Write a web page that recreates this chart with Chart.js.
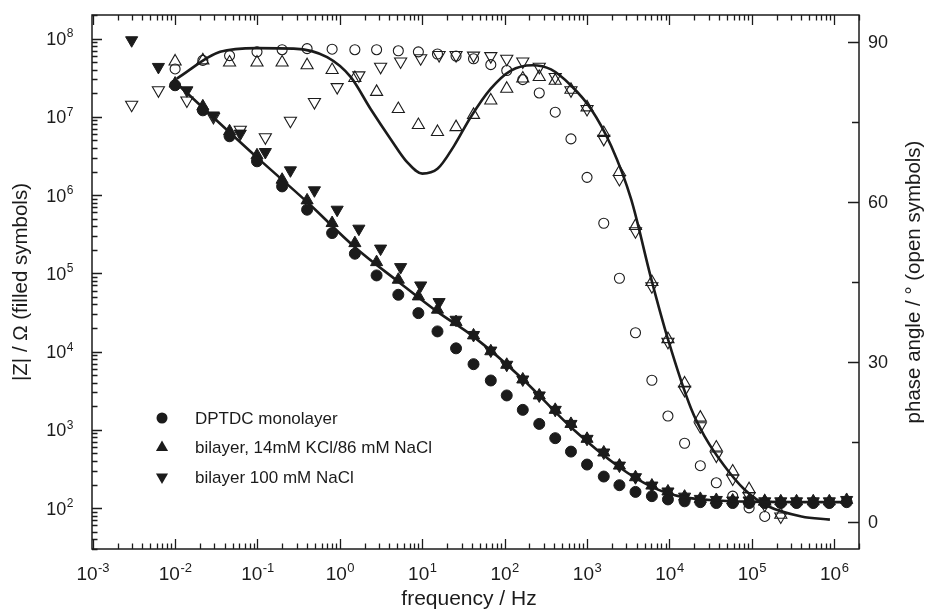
<!DOCTYPE html>
<html>
<head>
<meta charset="utf-8">
<title>Impedance and phase spectra</title>
<script src="https://cdn.jsdelivr.net/npm/chart.js@4.4.1/dist/chart.umd.min.js"></script>
<style>
  html, body { margin: 0; padding: 0; background: #fff; }
  #wrap { width: 926px; height: 610px; }
</style>
</head>
<body>
<div id="wrap"><canvas id="bode" width="926" height="610"></canvas></div>
<script>
// frequencies (Hz) of the monolayer and the KCl bilayer runs
const freqA = [0.01, 0.0217, 0.0458, 0.0986, 0.199, 0.400, 0.805, 1.52, 2.79, 5.12, 8.97, 15.3, 25.7, 41.9, 67.9,
  106, 166, 263, 411, 638, 1000, 1596, 2472, 3873, 6124, 9594, 15280, 23710, 37070, 58610, 92680, 143500, 224700,
  349100, 557000, 873000, 1416000];
// frequencies (Hz) of the 100 mM NaCl bilayer run (starts lower)
const freqB = [0.00297, 0.00627, 0.0139, 0.0292, 0.0618, 0.1245, 0.251, 0.491, 0.927, 1.70, 3.12, 5.46, 9.57, 16.0,
  25.7, 41.9, 67.9, 106, 166, 263, 411, 638, 1000, 1596, 2472, 3873, 6124, 9594, 15280, 23710, 37070, 58610, 92680,
  143500, 224700, 349100, 557000, 873000, 1416000];

// |Z| in ohm (filled symbols)
const zMono = [2.53e7, 1.21e7, 5.64e6, 2.70e6, 1.29e6, 6.50e5, 3.27e5, 1.78e5, 9.40e4, 5.32e4, 3.10e4, 1.81e4, 1.10e4,
  6900, 4270, 2750, 1800, 1190, 782, 527, 360, 253, 196, 161, 142, 129, 122, 119, 116, 116, 116, 116, 116, 116, 116, 116, 119];
const zKcl = [2.66e7, 1.36e7, 6.53e6, 3.22e6, 1.57e6, 8.55e5, 4.39e5, 2.43e5, 1.39e5, 8.28e4, 5.07e4, 3.43e4, 2.38e4,
  1.61e4, 1.01e4, 6780, 4400, 2750, 1800, 1190, 767, 513, 349, 248, 194, 163, 140, 131, 127, 125, 125, 122, 122, 122, 122, 122, 127];
const zNacl = [9.51e7, 4.34e7, 2.18e7, 1.04e7, 6.10e6, 3.55e6, 2.07e6, 1.15e6, 6.50e5, 3.72e5, 2.07e5, 1.20e5, 7.00e4,
  4.29e4, 2.55e4, 1.63e4, 1.03e4, 6780, 4400, 2750, 1800, 1190, 767, 513, 349, 248, 194, 163, 140, 131, 127, 125, 125,
  122, 122, 122, 122, 122, 127];

// phase angle in degrees (open symbols)
const phaseMono = [84.9, 86.5, 87.4, 88.1, 88.5, 88.7, 88.6, 88.5, 88.5, 88.3, 88.1, 87.7, 87.3, 86.8, 85.7, 84.6, 82.9,
  80.4, 76.8, 71.8, 64.6, 56.0, 45.7, 35.5, 26.6, 19.9, 14.8, 10.6, 7.4, 4.9, 2.7, 1.1];
const phaseKcl = [86.3, 86.5, 86.1, 86.1, 86.1, 85.6, 84.7, 83.2, 80.6, 77.4, 74.4, 73.1, 74.0, 76.3, 79.0, 81.2, 83.1,
  83.4, 82.7, 81.0, 77.7, 72.9, 65.6, 55.5, 45.0, 34.3, 26.0, 19.6, 14.0, 9.5, 6.2, 3.9, 1.4];
const phaseNacl = [78.2, 80.9, 79.0, 75.9, 73.5, 72.1, 75.2, 78.7, 81.5, 83.7, 85.3, 86.3, 86.9, 87.5, 87.5, 87.4, 87.3,
  86.8, 86.3, 85.3, 83.4, 80.9, 77.4, 71.8, 64.3, 54.5, 44.2, 33.8, 24.8, 18.0, 12.5, 8.2, 4.9, 3.3, 1.1];

// fitted curves (solid lines)
const fitZFreq = [0.01, 0.0986, 0.4, 1.52, 5.21, 15.5, 42.6, 165, 638, 2472, 6012, 9594, 15280, 37070, 92680, 1416000];
const fitZ = [2.79e7, 3.03e6, 8.15e5, 2.16e5, 7.71e4, 3.19e4, 1.53e4, 4470, 1080, 333, 188, 155, 137, 125, 121, 119];
const fitPFreq = [0.0105, 0.0352, 0.0986, 0.275, 0.700, 1.35, 2.36, 4.12, 6.59, 10.0, 15.3, 24.3, 38.8, 67.9, 119, 218,
  365, 638, 1117, 1959, 3428, 6012, 9594, 18410, 26730, 46770, 82040, 157800, 400900, 887200];
const fitPhase = [83.1, 88.1, 88.8, 88.7, 87.1, 83.4, 77.4, 71.8, 67.4, 65.3, 66.2, 70.5, 75.9, 81.2, 84.6, 85.6, 84.8,
  81.8, 77.4, 70.5, 60.5, 45.6, 34.3, 21.2, 16.1, 10.5, 6.1, 3.0, 1.1, 0.5];

// axis labels
const xTickExps = [-3, -2, -1, 0, 1, 2, 3, 4, 5, 6];
const yTickExps = [2, 3, 4, 5, 6, 7, 8];
const phaseTicks = [0, 30, 60, 90];
const phaseMinor = [15, 45, 75];
const legendLabels = ['DPTDC monolayer', 'bilayer, 14mM KCl/86 mM NaCl', 'bilayer 100 mM NaCl'];

const FONT = "'Liberation Sans', Arial, Helvetica, sans-serif";
const INK = '#1b1b1b';

function pts(xs, ys) {
  return ys.map((v, i) => ({ x: xs[i], y: v }));
}

function filled(data, style, rot, r) {
  return { data, yAxisID: 'y', pointStyle: style, rotation: rot, pointRadius: r, pointBackgroundColor: INK,
    pointBorderColor: INK, pointBorderWidth: 1, showLine: false };
}
function open(data, style, rot, r) {
  return { data, yAxisID: 'y2', pointStyle: style, rotation: rot, pointRadius: r, pointBackgroundColor: 'rgba(0,0,0,0)',
    pointBorderColor: INK, pointBorderWidth: 1.1, showLine: false };
}

function logTicks(min, max) {
  const out = [];
  for (let d = Math.floor(Math.log10(min)); d <= Math.ceil(Math.log10(max)); d++) {
    for (let m = 1; m <= 9; m++) {
      const v = m * Math.pow(10, d);
      if (v >= min * 0.999 && v <= max) out.push({ v, major: m === 1 });
    }
  }
  return out;
}

// "10" with a raised exponent; align is where x sits: 'center' or 'right'
function drawPow(ctx, exp, x, y, base, sup, align) {
  const e = String(exp);
  ctx.font = base + 'px ' + FONT;
  const w1 = ctx.measureText('10').width;
  ctx.font = sup + 'px ' + FONT;
  const w2 = ctx.measureText(e).width;
  const left = align === 'center' ? x - (w1 + w2) / 2 : x - (w1 + w2);
  ctx.textAlign = 'left';
  ctx.textBaseline = 'alphabetic';
  ctx.font = base + 'px ' + FONT;
  ctx.fillText('10', left, y);
  ctx.font = sup + 'px ' + FONT;
  ctx.fillText(e, left + w1 + 0.5, y - base * 0.42);
}

function marker(ctx, style, x, y) {
  ctx.beginPath();
  if (style === 'circle') {
    ctx.arc(x, y, 5.5, 0, Math.PI * 2);
  } else {
    const r = 7, s = style === 'down' ? -1 : 1;
    ctx.moveTo(x, y - s * r);
    ctx.lineTo(x + r * 0.866, y + s * r * 0.5);
    ctx.lineTo(x - r * 0.866, y + s * r * 0.5);
    ctx.closePath();
  }
  ctx.fill();
}

const decor = {
  id: 'decor',
  afterDraw(chart) {
    const { ctx, chartArea: a, scales } = chart;
    const sx = scales.x, sy = scales.y, sp = scales.y2;
    ctx.save();
    ctx.strokeStyle = INK;
    ctx.fillStyle = INK;
    ctx.lineWidth = 1.5;
    ctx.strokeRect(a.left, a.top, a.right - a.left, a.bottom - a.top);

    // ticks, all pointing into the plot
    ctx.lineWidth = 1.3;
    ctx.beginPath();
    logTicks(sx.min, sx.max).forEach(t => {
      const px = Math.round(sx.getPixelForValue(t.v)) + 0.5;
      const len = t.major ? 10 : 5.5;
      ctx.moveTo(px, a.bottom); ctx.lineTo(px, a.bottom - len);
      ctx.moveTo(px, a.top); ctx.lineTo(px, a.top + len);
    });
    logTicks(sy.min, sy.max).forEach(t => {
      const py = Math.round(sy.getPixelForValue(t.v)) + 0.5;
      const len = t.major ? 10 : 5.5;
      ctx.moveTo(a.left, py); ctx.lineTo(a.left + len, py);
    });
    phaseTicks.concat(phaseMinor).forEach(v => {
      const py = Math.round(sp.getPixelForValue(v)) + 0.5;
      const len = phaseTicks.includes(v) ? 11 : 7;
      ctx.moveTo(a.right, py); ctx.lineTo(a.right - len, py);
    });
    ctx.stroke();

    // tick labels
    xTickExps.forEach(e => drawPow(ctx, e, sx.getPixelForValue(Math.pow(10, e)), 580, 19, 13, 'center'));
    yTickExps.forEach(e => drawPow(ctx, e, 73, sy.getPixelForValue(Math.pow(10, e)) + 6.5, 18, 12, 'right'));
    ctx.font = '18px ' + FONT;
    ctx.textAlign = 'left';
    ctx.textBaseline = 'middle';
    phaseTicks.forEach(v => ctx.fillText(String(v), 868, sp.getPixelForValue(v) + 1));

    // axis titles
    ctx.font = '21px ' + FONT;
    ctx.textAlign = 'center';
    ctx.textBaseline = 'alphabetic';
    ctx.fillText('frequency / Hz', 469, 605);
    ctx.font = '20.5px ' + FONT;
    ctx.textBaseline = 'middle';
    const midY = (a.top + a.bottom) / 2;
    [[21, '|Z| / \u03A9 (filled symbols)'], [914, 'phase angle / \u00B0 (open symbols)']].forEach(([x, txt]) => {
      ctx.save();
      ctx.translate(x, midY);
      ctx.rotate(-Math.PI / 2);
      ctx.fillText(txt, 0, 0);
      ctx.restore();
    });

    // legend for the filled symbols
    const styles = ['circle', 'up', 'down'];
    const rows = [418, 447.5, 477];
    ctx.font = '17px ' + FONT;
    ctx.textAlign = 'left';
    legendLabels.forEach((lab, i) => {
      marker(ctx, styles[i], 162, rows[i]);
      ctx.fillText(lab, 195, rows[i] + 1);
    });
    ctx.restore();
  }
};

const line = (data, axis) => ({ data, yAxisID: axis, showLine: true, borderColor: INK, borderWidth: 2.6,
  pointRadius: 0, cubicInterpolationMode: 'monotone', fill: false });

new Chart(document.getElementById('bode'), {
  type: 'scatter',
  data: {
    datasets: [
      line(pts(fitZFreq, fitZ), 'y'),
      line(pts(fitPFreq, fitPhase), 'y2'),
      open(pts(freqA, phaseMono), 'circle', 0, 5),
      open(pts(freqA, phaseKcl), 'triangle', 0, 7),
      open(pts(freqB, phaseNacl), 'triangle', 180, 7),
      filled(pts(freqA, zMono), 'circle', 0, 5.5),
      filled(pts(freqA, zKcl), 'triangle', 0, 7),
      filled(pts(freqB, zNacl), 'triangle', 180, 7)
    ]
  },
  options: {
    responsive: false,
    animation: false,
    devicePixelRatio: 1,
    layout: { padding: { top: 15, left: 0, right: 0, bottom: 0 } },
    plugins: { legend: { display: false }, tooltip: { enabled: false } },
    scales: {
      x: {
        type: 'logarithmic', position: 'bottom', min: 0.00098, max: 2.0e6,
        ticks: { display: false }, grid: { display: false }, border: { display: false },
        afterFit: s => { s.height = 61; }
      },
      y: {
        type: 'logarithmic', position: 'left', min: 30, max: 2e8,
        ticks: { display: false }, grid: { display: false }, border: { display: false },
        afterFit: s => { s.width = 92; }
      },
      y2: {
        type: 'linear', position: 'right', min: -5, max: 95,
        ticks: { display: false }, grid: { display: false }, border: { display: false },
        afterFit: s => { s.width = 67; }
      }
    }
  },
  plugins: [decor]
});
</script>
</body>
</html>
